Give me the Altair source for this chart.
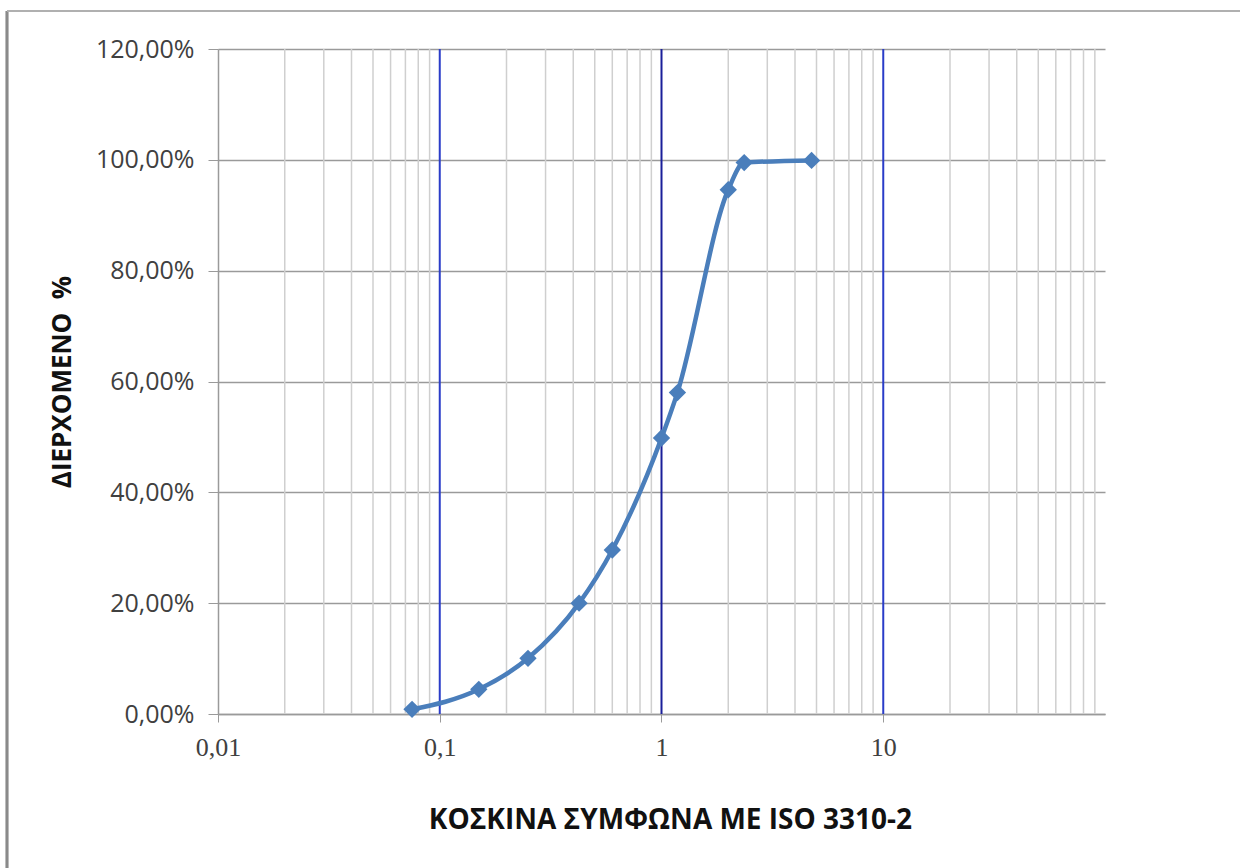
import altair as alt
import pandas as pd

# Data
sieve_mm = [0.075, 0.15, 0.25, 0.425, 0.6, 1.0, 1.18, 2.0, 2.36, 4.75]
passing_pct = [0.85, 4.45, 10.05, 20.0, 29.6, 49.8, 58.0, 94.6, 99.5, 99.9]

major_x = [0.1, 1, 10]
major_color = ["#2a3cc8", "#1a1f9a", "#2a3cc8"]
minor_x = [m * d for d in [0.01, 0.1, 1, 10] for m in [2, 3, 4, 5, 6, 7, 8, 9]]
y_ticks = [0, 20, 40, 60, 80, 100, 120]
x_ticks = [0.01, 0.1, 1, 10]

df = pd.DataFrame({"size": sieve_mm, "pass": passing_pct})
df_minor = pd.DataFrame({"x": minor_x})
df_major = pd.DataFrame({"x": major_x, "c": major_color})

W, H = 887, 665
xscale = alt.Scale(type="log", domain=[0.01, 100], nice=False)
yscale = alt.Scale(domain=[0, 120], nice=False, zero=True)

x_axis = alt.Axis(
    values=x_ticks,
    labelExpr="replace(format(datum.value, '~g'), '.', ',')",
    labelFlush=False,
    grid=False,
    domainColor="#9a9a9a",
    domainWidth=1.5,
    tickColor="#9a9a9a",
    tickSize=8,
    labelFont="Liberation Serif",
    labelFontSize=26,
    labelColor="#404040",
    labelPadding=12,
    title="ΚΟΣΚΙΝΑ ΣΥΜΦΩΝΑ ΜΕ ISO 3310-2",
    titleFont="Open Sans",
    titleFontSize=28,
    titleFontWeight="bold",
    titleColor="#111111",
    titleX=452,
    titleY=106,
    titleAnchor="middle",
    titleBaseline="middle",
)

y_axis = alt.Axis(
    values=y_ticks,
    labelExpr="replace(format(datum.value, '.2f'), '.', ',') + '%'",
    grid=True,
    gridColor="#9a9a9a",
    gridWidth=1.5,
    domainColor="#9a9a9a",
    domainWidth=1.5,
    tickColor="#9a9a9a",
    tickSize=10,
    labelFont="Open Sans",
    labelFontSize=25,
    labelColor="#404040",
    labelPadding=14,
    title="ΔΙΕΡΧΟΜΕΝΟ\u00a0\u00a0%",
    titleFont="Open Sans",
    titleFontSize=26,
    titleFontWeight="bold",
    titleColor="#111111",
    titleAngle=270,
    titleX=-156,
    titleY=H / 2,
    titleAlign="center",
    titleBaseline="middle",
)

minor = alt.Chart(df_minor).mark_rule(color="#cfcfcf", strokeWidth=1.5).encode(
    x=alt.X("x:Q", scale=xscale, axis=x_axis),
    y=alt.value(0),
    y2=alt.value(H),
)

major = alt.Chart(df_major).mark_rule(strokeWidth=2).encode(
    x=alt.X("x:Q", scale=xscale),
    y=alt.value(0),
    y2=alt.value(H),
    color=alt.Color("c:N", scale=None),
)

line = alt.Chart(df).mark_line(
    color="#4a7ebb", strokeWidth=4.5, interpolate="monotone"
).encode(
    x=alt.X("size:Q", scale=xscale),
    y=alt.Y("pass:Q", scale=yscale, axis=y_axis),
)

points = alt.Chart(df).mark_point(
    shape="diamond", filled=True, color="#4a7ebb", size=300, opacity=1
).encode(
    x=alt.X("size:Q", scale=xscale),
    y=alt.Y("pass:Q", scale=yscale),
)

frame_left = alt.Chart(df_major).mark_rule(color="#8a8a8a", strokeWidth=2.5).encode(
    x=alt.value(-211), y=alt.value(-38), y2=alt.value(868 - 49)
)
frame_top = alt.Chart(df_major).mark_rule(color="#b0b0b0", strokeWidth=2).encode(
    x=alt.value(-211), x2=alt.value(1240 - 218), y=alt.value(-38)
)

chart = alt.layer(minor, major, line, points, frame_left, frame_top).properties(
    width=W,
    height=H,
    autosize=alt.AutoSizeParams(type="none"),
    padding={"left": 218, "top": 49, "right": 1240 - 218 - W, "bottom": 868 - 49 - H},
    background="white",
).configure_view(stroke=None)

chart.save("out.html", embed_options={"renderer": "svg", "actions": False})
